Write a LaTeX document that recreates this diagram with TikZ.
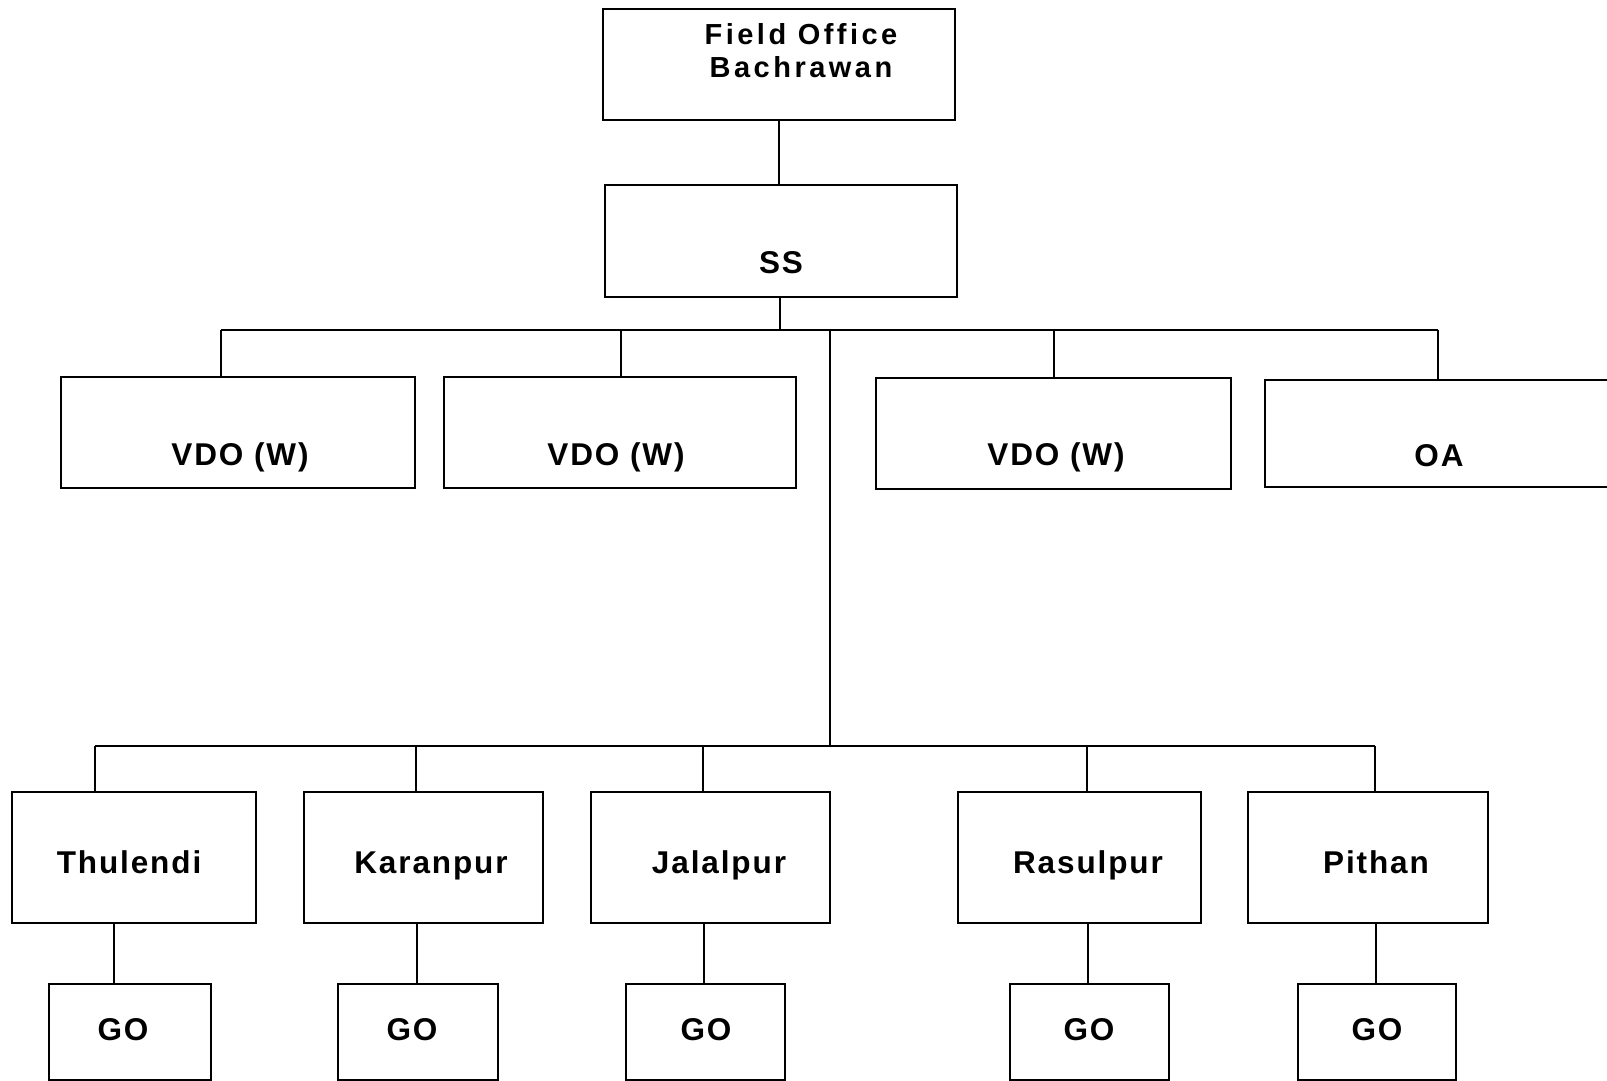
\documentclass[tikz,border=0pt]{standalone}
\usepackage{fontspec}
\setmainfont[LetterSpace=6]{Liberation Sans}
\newfontfamily\headfont[LetterSpace=12]{Liberation Sans}
\begin{document}
\begin{tikzpicture}[x=1pt,y=-1pt,
  box/.style={draw, line width=1.6pt, rectangle, inner sep=0pt},
  lbl/.style={anchor=base, inner sep=0pt, font=\fontsize{31.5}{36}\selectfont\bfseries},
  headlbl/.style={anchor=base, inner sep=0pt, font=\headfont\fontsize{29}{34}\selectfont\bfseries},
  conn/.style={line width=1.6pt}]
\useasboundingbox (0,0) rectangle (1607,1080);
% boxes
\node[box, minimum width=352pt, minimum height=111pt] (fo) at (779,64.5) {};
\node[box, minimum width=352pt, minimum height=112pt] (ss) at (781,241) {};
\node[box, minimum width=354pt, minimum height=111pt] (v1) at (238,432.5) {};
\node[box, minimum width=352pt, minimum height=111pt] (v2) at (620,432.5) {};
\node[box, minimum width=355pt, minimum height=111pt] (v3) at (1053.5,433.5) {};
\node[box, minimum width=375pt, minimum height=107pt] (oa) at (1452.5,433.5) {};
\node[box, minimum width=244pt, minimum height=131pt] (t) at (134,857.5) {};
\node[box, minimum width=239pt, minimum height=131pt] (k) at (423.5,857.5) {};
\node[box, minimum width=239pt, minimum height=131pt] (j) at (710.5,857.5) {};
\node[box, minimum width=243pt, minimum height=131pt] (r) at (1079.5,857.5) {};
\node[box, minimum width=240pt, minimum height=131pt] (p) at (1368,857.5) {};
\node[box, minimum width=162pt, minimum height=96pt] (g1) at (130,1032) {};
\node[box, minimum width=160pt, minimum height=96pt] (g2) at (418,1032) {};
\node[box, minimum width=159pt, minimum height=96pt] (g3) at (705.5,1032) {};
\node[box, minimum width=159pt, minimum height=96pt] (g4) at (1089.5,1032) {};
\node[box, minimum width=158pt, minimum height=96pt] (g5) at (1377,1032) {};
% labels
\node[headlbl] (fo1) at (801,44) {Field Office};
\node[headlbl] (fo2) at (801,77) {Bachrawan};
\node[lbl] (ssl) at (781,273) {SS};
\node[lbl] (v1l) at (240,465) {VDO (W)};
\node[lbl] (v2l) at (616,465) {VDO (W)};
\node[lbl] (v3l) at (1056,465) {VDO (W)};
\node[lbl] (oal) at (1439,466) {OA};
\node[lbl] (tl) at (129,873) {Thulendi};
\node[lbl] (kl) at (431,873) {Karanpur};
\node[lbl] (jl) at (719,873) {Jalalpur};
\node[lbl] (rl) at (1088,873) {Rasulpur};
\node[lbl] (pl) at (1376,873) {Pithan};
\node[lbl] (g1l) at (123,1040) {GO};
\node[lbl] (g2l) at (412,1040) {GO};
\node[lbl] (g3l) at (706,1040) {GO};
\node[lbl] (g4l) at (1089,1040) {GO};
\node[lbl] (g5l) at (1377,1040) {GO};
% coordinates
\coordinate (top) at (780,330);
\coordinate (d1) at (221,330);
\coordinate (d2) at (621,330);
\coordinate (d3) at (1054,330);
\coordinate (d4) at (1438,330);
\coordinate (m1) at (830,330);
\coordinate (m2) at (830,746);
\coordinate (e1) at (95,746);
\coordinate (e2) at (416,746);
\coordinate (e3) at (703,746);
\coordinate (e4) at (1087,746);
\coordinate (e5) at (1375,746);
\coordinate (f1) at (114,0);
\coordinate (f2) at (417,0);
\coordinate (f3) at (704,0);
\coordinate (f4) at (1088,0);
\coordinate (f5) at (1376,0);
% connectors
\draw[conn] (fo.south) -- (fo.south |- ss.north);
\draw[conn] (ss.south -| top) -- (top);
\draw[conn] (d1) -- (d4);
\draw[conn] (d1) -- (d1 |- v1.north);
\draw[conn] (d2) -- (d2 |- v2.north);
\draw[conn] (d3) -- (d3 |- v3.north);
\draw[conn] (d4) -- (d4 |- oa.north);
\draw[conn] (m1) -- (m2);
\draw[conn] (e1) -- (e5);
\draw[conn] (e1) -- (e1 |- t.north);
\draw[conn] (e2) -- (e2 |- k.north);
\draw[conn] (e3) -- (e3 |- j.north);
\draw[conn] (e4) -- (e4 |- r.north);
\draw[conn] (e5) -- (e5 |- p.north);
\draw[conn] (t.south -| f1) -- (g1.north -| f1);
\draw[conn] (k.south -| f2) -- (g2.north -| f2);
\draw[conn] (j.south -| f3) -- (g3.north -| f3);
\draw[conn] (r.south -| f4) -- (g4.north -| f4);
\draw[conn] (p.south -| f5) -- (g5.north -| f5);
\end{tikzpicture}
\end{document}
